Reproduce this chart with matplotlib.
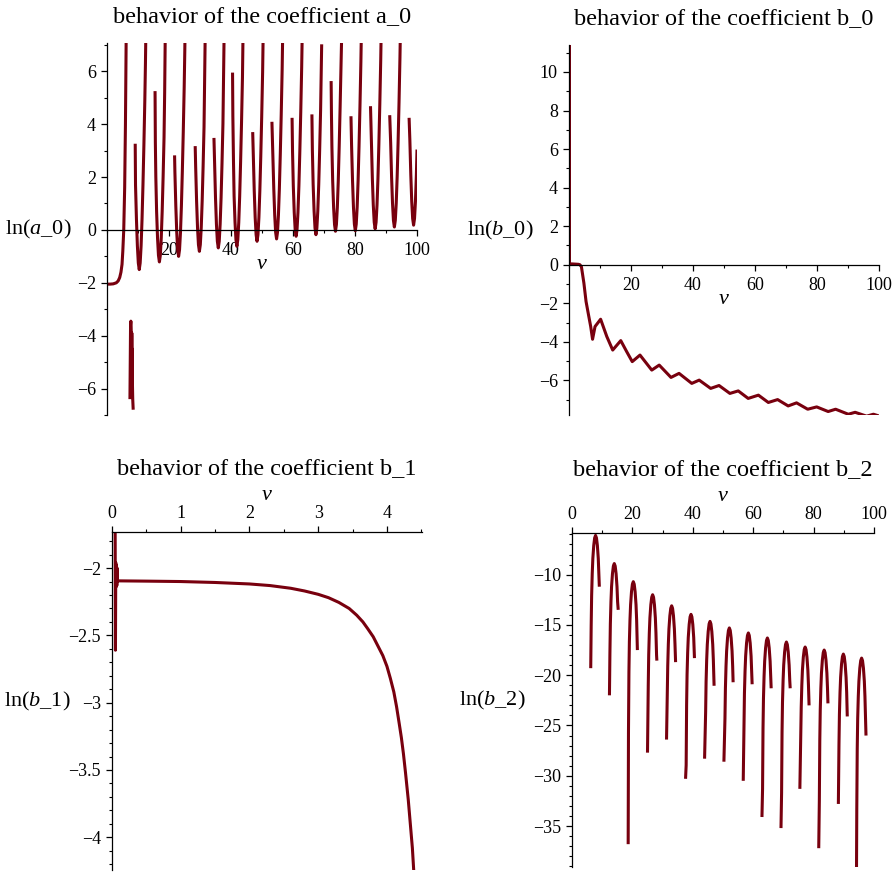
import numpy as np
import matplotlib
matplotlib.use("Agg")
import matplotlib.pyplot as plt
from matplotlib.ticker import FixedLocator, MultipleLocator, FuncFormatter

plt.rcParams["font.family"] = ["Liberation Serif", "DejaVu Serif"]
plt.rcParams["mathtext.fontset"] = "custom"
plt.rcParams["mathtext.rm"] = "Liberation Serif"
plt.rcParams["mathtext.it"] = "Liberation Serif:italic"

nan = np.nan
RED = "#78000e"

# --- ln(a_0): pieces separated by nan (curve leaves the real range between them)
a0_v = [0, 1, 2, 3, 3.6, 4.1, 4.5, 4.85, 5.1, 5.4, 5.7, 5.95, 6.2, nan,
        7.4, 7.5, 7.6, 7.7, 7.8, 7.85, 7.9, 7.95, 8.0, 8.05, 8.1, 8.2, 8.3, 8.45, nan,
        9.1, 9.2, 9.5, 9.8, 10.1, 10.4, 10.7, 11.0, 11.3, 11.6, 11.9, 12.2, 12.4, 12.6, nan,
        15.5, 15.6, 15.75, 16.0, 16.3, 16.6, 16.9, 17.2, 17.5, 17.8, 18.1, 18.4, 18.6, 18.8, nan,
        21.8, 21.9, 22.2, 22.5, 22.8, 23.1, 23.4, 23.7, 24.0, 24.3, 24.6, 24.9, 25.1, 25.3, nan,
        28.45, 28.6, 28.9, 29.2, 29.5, 29.8, 30.1, 30.4, 30.7, 31.0, 31.3, 31.5, 31.7, nan,
        34.5, 34.7, 35.0, 35.3, 35.6, 35.9, 36.2, 36.5, 36.8, 37.1, 37.4, 37.6, 37.8, nan,
        40.5, 40.6, 40.8, 41.0, 41.3, 41.6, 41.9, 42.2, 42.5, 42.8, 43.1, 43.4, 43.7, 43.9, nan,
        47.0, 47.2, 47.5, 47.8, 48.1, 48.4, 48.7, 49.0, 49.3, 49.6, 49.9, 50.2, 50.4, nan,
        53.2, 53.5, 53.8, 54.1, 54.4, 54.7, 55.0, 55.3, 55.6, 55.9, 56.2, 56.5, 56.7, nan,
        59.7, 59.85, 60.1, 60.4, 60.7, 61.0, 61.3, 61.6, 61.9, 62.2, 62.5, 62.8, 63.0, nan,
        66.1, 66.25, 66.5, 66.8, 67.1, 67.4, 67.7, 68.0, 68.3, 68.6, 68.9, 69.1, 69.25, nan,
        72.3, 72.4, 72.55, 72.8, 73.1, 73.4, 73.7, 74.0, 74.3, 74.6, 74.9, 75.2, 75.5, 75.65, nan,
        78.7, 78.9, 79.2, 79.5, 79.8, 80.1, 80.4, 80.7, 81.0, 81.3, 81.6, 81.9, 82.1, nan,
        85.0, 85.3, 85.6, 85.9, 86.2, 86.5, 86.8, 87.1, 87.4, 87.7, 88.0, 88.3, 88.5, nan,
        91.2, 91.5, 91.8, 92.1, 92.4, 92.7, 93.0, 93.3, 93.6, 93.9, 94.2, 94.5, 94.7, nan,
        97.45, 97.7, 98.0, 98.3, 98.6, 98.9, 99.2, 99.5, 99.8, 100.0]
a0_ln = [-2.05, -2.05, -2.04, -2.0, -1.93, -1.8, -1.6, -1.3, -0.8, 0.0, 1.6, 4.0, 7.5, nan,
         -6.4, -4.8, -3.6, -3.45, -3.8, -6.2, -4.0, -6.3, -3.9, -6.0, -4.5, -5.8, -6.4, -6.8, nan,
         3.26, 1.7, 0.4, -0.6, -1.25, -1.5, -1.25, -0.6, 0.4, 1.7, 3.2, 4.9, 6.3, 8.0, nan,
         5.25, 3.3, 2.0, 0.7, -0.3, -0.96, -1.21, -0.96, -0.3, 0.7, 2.0, 3.5, 5.2, 7.5, nan,
         2.82, 2.2, 0.9, -0.1, -0.75, -1.0, -0.75, -0.1, 0.9, 2.2, 3.7, 5.4, 6.8, 8.5, nan,
         3.17, 2.39, 1.09, 0.09, -0.56, -0.81, -0.56, 0.09, 1.09, 2.39, 3.89, 5.6, 7.6, nan,
         3.48, 2.52, 1.22, 0.22, -0.43, -0.68, -0.43, 0.22, 1.22, 2.52, 4.02, 5.7, 7.6, nan,
         5.95, 4.3, 2.6, 1.28, 0.28, -0.37, -0.62, -0.37, 0.28, 1.28, 2.58, 4.08, 5.78, 7.6, nan,
         3.7, 2.77, 1.47, 0.47, -0.18, -0.43, -0.18, 0.47, 1.47, 2.77, 4.27, 5.97, 7.6, nan,
         4.09, 2.86, 1.56, 0.56, -0.09, -0.34, -0.09, 0.56, 1.56, 2.86, 4.36, 6.06, 7.6, nan,
         4.24, 2.96, 1.66, 0.66, 0.01, -0.24, 0.01, 0.66, 1.66, 2.96, 4.46, 6.16, 7.6, nan,
         4.37, 3.02, 1.72, 0.72, 0.07, -0.18, 0.07, 0.72, 1.72, 3.02, 4.52, 6.0, 7.02, nan,
         5.63, 4.4, 3.15, 1.85, 0.85, 0.2, -0.05, 0.2, 0.85, 1.85, 3.15, 4.65, 6.35, 7.08, nan,
         4.3, 3.17, 1.87, 0.87, 0.22, -0.03, 0.22, 0.87, 1.87, 3.17, 4.67, 6.37, 7.77, nan,
         4.68, 3.24, 1.94, 0.94, 0.29, 0.04, 0.29, 0.94, 1.94, 3.24, 4.74, 6.44, 7.84, nan,
         4.34, 3.31, 2.01, 1.01, 0.36, 0.11, 0.36, 1.01, 2.01, 3.31, 4.81, 6.51, 7.91, nan,
         4.24, 3.38, 2.08, 1.08, 0.43, 0.18, 0.43, 1.08, 2.08, 3.04]

# --- ln(b_0)
b0_v = [0.15, 0.15, 0.4, 1, 2, 3, 3.5, 4.0, 4.8, 5.5, 6.2, 7.0, 7.6, 8.4, 10.2, 12.2,
        14.1, 16.7, 18.6, 20.4, 22.9, 26.7, 29.1, 32.9, 35.5, 39.6, 42.0, 45.7, 48.4,
        51.9, 54.6, 57.8, 61.1, 64.3, 67.3, 70.7, 73.4, 77.0, 79.9, 83.6, 86.0, 90.1,
        92.3, 96.0, 98.2, 100]
b0_ln = [12, 0.05, 0.04, 0.04, 0.03, 0.02, 0.0, -0.1, -0.95, -1.91, -2.52, -3.21, -3.87,
         -3.21, -2.83, -3.73, -4.43, -3.94, -4.51, -5.03, -4.69, -5.47, -5.21, -5.85,
         -5.64, -6.16, -5.99, -6.42, -6.27, -6.68, -6.55, -6.94, -6.77, -7.15, -7.0,
         -7.33, -7.17, -7.5, -7.38, -7.62, -7.5, -7.76, -7.66, -7.86, -7.76, -7.85]

# --- ln(b_1)
b1_v = [0.045, 0.05, 0.055, 0.06, 0.065, 0.07, 0.075, 0.08, 0.09, 0.1, 0.3, 0.5, 1.0,
        1.5, 2.0, 2.3, 2.6, 2.8, 3.0, 3.15, 3.3, 3.45, 3.56, 3.65, 3.72, 3.8, 3.88,
        3.94, 4.0, 4.05, 4.1, 4.14, 4.18, 4.21, 4.24, 4.27, 4.31, 4.34, 4.37, 4.39, 4.41]
b1_ln = [-1.5, -2.61, -1.96, -2.14, -1.98, -2.13, -2.0, -2.1, -2.095, -2.095, -2.096,
         -2.097, -2.10, -2.107, -2.118, -2.13, -2.15, -2.17, -2.195, -2.22, -2.255,
         -2.30, -2.35, -2.40, -2.45, -2.51, -2.59, -2.65, -2.73, -2.82, -2.92, -3.03,
         -3.16, -3.26, -3.38, -3.52, -3.72, -3.9, -4.08, -4.25, -4.4]

# --- ln(b_2): arcs separated by nan
b2_v = [6.2, 6.35, 6.5, 6.7, 6.9, 7.2, 7.5, 7.8, 8.1, 8.4, 8.7, 8.9, 9.05, nan,
        12.4, 12.55, 12.7, 12.9, 13.1, 13.4, 13.7, 14.0, 14.3, 14.6, 14.9, 15.1, 15.3, nan,
        18.6, 18.7, 18.85, 19.0, 19.2, 19.4, 19.7, 20.0, 20.3, 20.6, 20.9, 21.2, 21.4, 21.65, nan,
        25.0, 25.25, 25.4, 25.6, 25.8, 26.1, 26.4, 26.7, 27.0, 27.3, 27.6, 27.8, 28.0, 28.1, nan,
        31.3, 31.55, 31.7, 31.9, 32.1, 32.4, 32.7, 33.0, 33.3, 33.6, 33.9, 34.1, 34.3, nan,
        37.6, 37.8, 37.95, 38.1, 38.3, 38.5, 38.8, 39.1, 39.4, 39.7, 40.0, 40.3, 40.55, nan,
        43.9, 44.25, 44.4, 44.6, 44.8, 45.1, 45.4, 45.7, 46.0, 46.3, 46.6, 46.8, 47.0, 47.05, nan,
        50.3, 50.65, 50.8, 51.0, 51.2, 51.5, 51.8, 52.1, 52.4, 52.7, 53.0, 53.2, 53.35, nan,
        56.7, 56.95, 57.1, 57.3, 57.5, 57.8, 58.1, 58.4, 58.7, 59.0, 59.3, 59.5, 59.65, nan,
        62.9, 63.1, 63.25, 63.4, 63.6, 63.8, 64.1, 64.4, 64.7, 65.0, 65.3, 65.6, 65.8, 65.95, nan,
        69.2, 69.4, 69.55, 69.7, 69.9, 70.1, 70.4, 70.7, 71.0, 71.3, 71.6, 71.9, 72.1, 72.25, nan,
        75.45, 75.75, 75.9, 76.1, 76.3, 76.6, 76.9, 77.2, 77.5, 77.8, 78.1, 78.3, 78.5, nan,
        81.7, 81.9, 82.05, 82.2, 82.4, 82.6, 82.9, 83.2, 83.5, 83.8, 84.1, 84.4, 84.6, 84.75, nan,
        88.2, 88.4, 88.55, 88.75, 88.95, 89.25, 89.55, 89.85, 90.15, 90.45, 90.75, 90.95, 91.15, nan,
        94.15, 94.3, 94.45, 94.6, 94.8, 95.0, 95.3, 95.6, 95.9, 96.2, 96.5, 96.8, 97.0, 97.2, 97.35]
b2_ln = [-19.3, -15.1, -12.1, -9.9, -8.4, -7.1, -6.35, -6.1, -6.35, -7.1, -8.4, -9.9, -11.2, nan,
         -22.0, -17.9, -14.9, -12.7, -11.2, -9.9, -9.15, -8.9, -9.15, -9.9, -11.2, -12.7, -13.5, nan,
         -36.8, -25.7, -19.7, -16.7, -14.5, -13.0, -11.7, -10.95, -10.7, -10.95, -11.7, -13.0, -14.5, -17.5, nan,
         -27.7, -21.0, -18.0, -15.8, -14.3, -13.0, -12.25, -12.0, -12.25, -13.0, -14.3, -15.8, -18.0, -18.55, nan,
         -26.4, -22.1, -19.1, -16.9, -15.4, -14.1, -13.35, -13.1, -13.35, -14.1, -15.4, -16.9, -18.7, nan,
         -30.3, -28.95, -22.95, -19.95, -17.75, -16.25, -14.95, -14.2, -13.95, -14.2, -14.95, -16.25, -18.3, nan,
         -28.3, -23.65, -20.65, -18.45, -16.95, -15.65, -14.9, -14.65, -14.9, -15.65, -16.95, -18.45, -20.65, -21.05, nan,
         -28.6, -24.3, -21.3, -19.1, -17.6, -16.3, -15.55, -15.3, -15.55, -16.3, -17.6, -19.1, -20.7, nan,
         -30.5, -24.8, -21.8, -19.6, -18.1, -16.8, -16.05, -15.8, -16.05, -16.8, -18.1, -19.6, -20.9, nan,
         -34.1, -31.3, -25.3, -22.3, -20.1, -18.6, -17.3, -16.55, -16.3, -16.55, -17.3, -18.6, -20.1, -21.3, nan,
         -35.2, -31.7, -25.7, -22.7, -20.5, -19.0, -17.7, -16.95, -16.7, -16.95, -17.7, -19.0, -20.5, -21.3, nan,
         -31.3, -26.2, -23.2, -21.0, -19.5, -18.2, -17.45, -17.2, -17.45, -18.2, -19.5, -21.0, -23.0, nan,
         -37.2, -32.5, -26.5, -23.5, -21.3, -19.8, -18.5, -17.75, -17.5, -17.75, -18.5, -19.8, -21.3, -22.8, nan,
         -32.8, -26.9, -23.9, -21.7, -20.2, -18.9, -18.15, -17.9, -18.15, -18.9, -20.2, -21.7, -24.1, nan,
         -43.0, -33.3, -27.3, -24.3, -22.1, -20.6, -19.3, -18.55, -18.3, -18.55, -19.3, -20.6, -22.1, -24.3, -26.0]

titles = ["behavior of the coefficient a_0", "behavior of the coefficient b_0",
          "behavior of the coefficient b_1", "behavior of the coefficient b_2"]
ylabels = [r"$\mathrm{ln}(\mathit{a\_0})$", r"$\mathrm{ln}(\mathit{b\_0})$",
           r"$\mathrm{ln}(\mathit{b\_1})$", r"$\mathrm{ln}(\mathit{b\_2})$"]

fig = plt.figure(figsize=(8.96, 8.73), dpi=100)

# numbers like maple: -2, -2.5 (no trailing .0), real minus sign
num_fmt = FuncFormatter(lambda v, pos: ("%g" % v).replace("-", "\u2212"))


def setup(rect, x, y, xlim, ylim, xticks, xminor, yticks, yminor, title, ylab, top_axis, lab_off):
    ax = fig.add_axes(rect)
    ax.plot(x, y, color=RED, lw=2.2, solid_capstyle="butt", solid_joinstyle="round")
    ax.set_xlim(*xlim)
    ax.set_ylim(*ylim)
    ax.xaxis.set_major_locator(FixedLocator(xticks))
    ax.xaxis.set_minor_locator(MultipleLocator(xminor))
    ax.yaxis.set_major_locator(FixedLocator(yticks))
    ax.yaxis.set_minor_locator(MultipleLocator(yminor))
    ax.xaxis.set_major_formatter(num_fmt)
    ax.yaxis.set_major_formatter(num_fmt)
    ax.spines["right"].set_visible(False)
    for s in ax.spines.values():
        s.set_linewidth(0.9)
    if top_axis:
        ax.spines["bottom"].set_visible(False)
        ax.xaxis.tick_top()
        ax.tick_params(axis="x", which="both", direction="out", pad=3)
        ax.annotate("v", xy=(0.5, 1.0), xycoords="axes fraction", xytext=(0, 37),
                    textcoords="offset pixels", ha="center", va="center",
                    fontsize=16, style="italic")
        ax.annotate(title, xy=(0.5, 1.0), xycoords="axes fraction", xytext=(0, 63),
                    textcoords="offset pixels", ha="center", va="center", fontsize=17.5)
    else:
        ax.spines["top"].set_visible(False)
        ax.spines["bottom"].set_position(("data", 0))
        ax.tick_params(axis="x", which="both", direction="out", pad=5)
        ax.annotate("v", xy=(0.5, 0), xycoords=("axes fraction", "data"), xytext=(0, -35),
                    textcoords="offset pixels", ha="center", va="center",
                    fontsize=16, style="italic")
        ax.annotate(title, xy=(0.5, 1.0), xycoords="axes fraction", xytext=(0, 26),
                    textcoords="offset pixels", ha="center", va="center", fontsize=17.5)
    ax.tick_params(which="major", length=4, width=0.9, labelsize=13)
    ax.tick_params(which="minor", length=2.5, width=0.8)
    ax.tick_params(axis="y", which="both", direction="out", pad=4)
    ax.annotate(ylab, xy=(0, 0.5), xycoords="axes fraction", xytext=(lab_off, 0),
                textcoords="offset pixels", ha="right", va="center", fontsize=16)
    return ax


setup([107 / 896, 1 - 415 / 873, 310 / 896, 372 / 873], a0_v, a0_ln, (0, 100), (-7.0, 7.07),
      [20, 40, 60, 80, 100], 10, [-6, -4, -2, 0, 2, 4, 6], 1, titles[0], ylabels[0], False, -35)
setup([569 / 896, 1 - 415 / 873, 310 / 896, 370 / 873], b0_v, b0_ln, (0, 100), (-7.8, 11.4),
      [20, 40, 60, 80, 100], 10, [-6, -4, -2, 0, 2, 4, 6, 8, 10], 1, titles[1], ylabels[1], False, -35)
setup([112 / 896, 1 - 870 / 873, 310 / 896, 338 / 873], b1_v, b1_ln, (0, 4.51), (-4.243, -1.732),
      [0, 1, 2, 3, 4], 0.5, [-4, -3.5, -3, -2.5, -2], 0.1, titles[2], ylabels[2], True, -41)
setup([572 / 896, 1 - 867 / 873, 302 / 896, 334 / 873], b2_v, b2_ln, (0, 100), (-39.07, -5.86),
      [0, 20, 40, 60, 80, 100], 10, [-35, -30, -25, -20, -15, -10], 1, titles[3], ylabels[3], True, -46)

fig.savefig("out.png", dpi=100)
